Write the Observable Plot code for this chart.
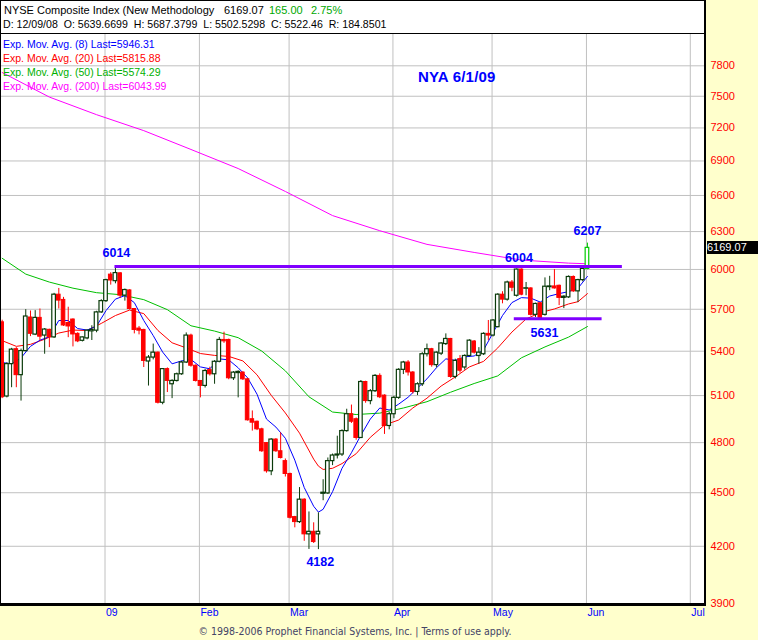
<!DOCTYPE html>
<html><head><meta charset="utf-8">
<script src="https://cdn.jsdelivr.net/npm/d3@7"></script>
<script src="https://cdn.jsdelivr.net/npm/@observablehq/plot@0.6"></script>
<style>
body{margin:0;background:#ffffcc;}
#wrap{position:relative;width:758px;height:640px;background:#ffffcc;overflow:hidden;font-family:"Liberation Sans",Arial,sans-serif;}
#panel{position:absolute;left:0;top:0;width:705px;height:603px;background:#fff;}
#chart{position:absolute;left:0;top:0;}
.b{position:absolute;background:#000;}
.t{position:absolute;white-space:pre;line-height:1;}
</style></head>
<body>
<div id="wrap">
  <div id="panel"></div>
  <div id="chart"></div>
  <div class="b" style="left:0;top:0;width:705px;height:1px"></div>
  <div class="b" style="left:0;top:33px;width:705px;height:1px"></div>
  <div class="b" style="left:0;top:0;width:1px;height:606px"></div>
  <div class="b" style="left:704px;top:0;width:2px;height:606px"></div>
  <div class="b" style="left:0;top:603px;width:706px;height:3px"></div>
  <div class="t" style="left:4px;top:5px;font-size:11px;color:#000">NYSE Composite Index (New Methodology</div>
  <div class="t" style="left:224px;top:5px;font-size:11px;color:#000">6169.07</div>
  <div class="t" style="left:269px;top:5px;font-size:11px;color:#00a800">165.00</div>
  <div class="t" style="left:311px;top:5px;font-size:11px;color:#00a800">2.75%</div>
  <div class="t" style="left:3px;top:19px;font-size:10.6px;color:#000">D: 12/09/08  O: 5639.6699  H: 5687.3799  L: 5502.5298  C: 5522.46  R: 184.8501</div>
  <div class="t" style="left:3px;top:39px;font-size:10.5px;color:#0000ff">Exp. Mov. Avg. (8) Last=5946.31</div>
  <div class="t" style="left:3px;top:53px;font-size:10.5px;color:#ff0000">Exp. Mov. Avg. (20) Last=5815.88</div>
  <div class="t" style="left:3px;top:67px;font-size:10.5px;color:#00b000">Exp. Mov. Avg. (50) Last=5574.29</div>
  <div class="t" style="left:3px;top:81px;font-size:10.5px;color:#ff00ff">Exp. Mov. Avg. (200) Last=6043.99</div>
  <div class="t" style="left:418px;top:69px;font-size:15px;font-weight:bold;color:#0000ff;letter-spacing:0.2px">NYA 6/1/09</div>
  <div class="t" id="tag" style="left:707px;width:51px;height:13px;background:#000;color:#fff;font-size:11px;padding-top:1px;box-sizing:border-box">6169.07</div>
  <div class="t" style="left:0;width:710px;top:626px;text-align:center;font-size:10.5px;color:#444466;font-family:'Liberation Sans Narrow','DejaVu Sans Condensed',sans-serif">© 1998-2006 Prophet Financial Systems, Inc. | Terms of use apply.</div>
</div>
<script>
// Daily OHLC, trading-day index 0 = first visible bar (Dec 2008) ... 124 = Jun 1 2009
const openV = [5605,5094,5311,5414,5236,5401,5639.67,5517,5637,5510,5551,5497,5808,5769,5600,5625,5522,5473,5490,5540,
  5545,5677,5760,5960,5910,5970,5801,5840,5702,5560,5550,5329,5356,5390,5053,5277,5175,5197,5242,5322,
  5510,5300,5197,5164,5270,5242,5327,5479,5479,5215,5250,5253,5208,4947,4931,4883,4797,4626,4819,4747,
  4687,4610,4361,4333,4460,4265,4279,4265,4494,4496,4687,4721,4727,4872,4979,4947,4829,5190,5064,5129,
  5231,5100,4904,4979,5085,5272,5322,5254,5124,5175,5379,5414,5304,5383,5450,5486,5224,5345,5288,5367,
  5468,5367,5379,5522,5510,5570,5808,5771,5900,5800,5999,5853,5855,5659,5744,5659,5865,5870,5875,5784,
  5788,5942,5833,5918,6004.07];
const highV = [5620,5320,5420,5425,5415,5697,5687.38,5690,5702,5560,5555,5818,5855,5788,5715,5630,5530,5500,5550,5580,
  5685,5770,5925,5975,6014,5975,5850,5845,5705,5575,5555,5370,5450,5395,5280,5285,5205,5250,5330,5529,
  5520,5305,5200,5275,5290,5335,5497,5534,5485,5260,5265,5260,5215,5000,4935,4890,4800,4825,4825,4861,
  4700,4615,4365,4530,4465,4390,4329,4385,4576,4706,4730,4840,4880,5011,5038,4955,5200,5195,5140,5240,
  5245,5105,4990,5095,5280,5330,5335,5260,5185,5390,5450,5420,5395,5460,5522,5490,5345,5370,5375,5480,
  5475,5425,5530,5618,5625,5815,5830,5910,5915,6004,6004,5900,5860,5745,5750,5935,5947,5999,5880,5800,
  5950,5950,5925,6010,6207];
const lowV = [5080,5085,5152,5152,5064,5395,5502.53,5510,5473,5379,5425,5490,5702,5575,5495,5430,5460,5465,5480,5475,
  5530,5670,5750,5880,5890,5780,5760,5695,5522,5515,5288,5163,5340,5045,5040,5120,5080,5190,5235,5315,
  5290,5190,5085,5150,5230,5175,5320,5455,5205,5200,5085,5200,4935,4872,4875,4740,4615,4600,4740,4700,
  4592,4350,4301,4325,4227,4183,4215,4182,4454,4490,4660,4700,4715,4865,4920,4815,4825,5050,5040,5120,
  5080,4851,4880,4950,5075,5240,5230,5110,5100,5160,5360,5290,5285,5370,5440,5215,5210,5250,5270,5360,
  5380,5310,5370,5474,5500,5565,5740,5760,5830,5790,5800,5800,5650,5640,5632,5650,5838,5850,5727,5705,
  5780,5825,5749,5905,5998];
const closeV = [5089,5311,5411,5236,5401,5647,5522.46,5637,5502,5553,5497,5808,5764,5582,5575,5518,5469,5497,5545,5550,
  5677,5760,5918,5915,5972,5801,5843,5702,5550,5545,5333,5356,5390,5053,5277,5197,5197,5242,5322,5510,
  5300,5197,5164,5264,5242,5327,5479,5469,5215,5253,5258,5208,4940,4925,4883,4747,4626,4819,4747,4706,
  4610,4357,4333,4460,4265,4279,4223,4279,4500,4687,4721,4727,4872,4979,4931,4829,5190,5064,5129,5231,
  5089,4904,4979,5085,5272,5322,5254,5124,5175,5379,5414,5304,5390,5454,5486,5224,5333,5266,5367,5474,
  5390,5390,5522,5510,5618,5808,5771,5900,5860,5999,5808,5856,5659,5739,5637,5868,5870,5855,5784,5793,
  5942,5833,5918,6004.07,6169.07];

const ema8Idx = [0,2,4,6,8,10,12,14,16,18,20,22,24,26,28,30,32,34,36,38,40,42,44,46,48,50,52,54,56,58,60,62,64,66,67,68,70,72,74,76,78,80,82,84,86,88,90,92,94,96,98,100,102,104,106,108,110,112,114,116,118,120,122,124];
const ema8 = [5322,5313,5354,5434,5477,5502,5618,5618,5560,5549,5578,5690,5775,5801,5749,5618,5510,5394,5313,5333,5343,5292,5279,5347,5340,5286,5218,5109,4948,4897,4827,4693,4530,4422,4389,4405,4506,4644,4738,4846,4948,5019,5006,5044,5089,5150,5211,5286,5347,5337,5361,5367,5409,5530,5654,5749,5786,5782,5753,5798,5816,5831,5857,5946.31];
const ema20Idx = [0,3,6,9,12,15,18,21,24,27,30,33,36,39,42,45,48,51,54,57,60,63,66,67,68,70,72,75,78,81,84,87,90,93,96,99,102,105,108,111,114,117,120,122,124];
const ema20 = [5474,5434,5448,5484,5528,5549,5546,5597,5654,5694,5668,5546,5459,5423,5384,5371,5364,5333,5238,5102,4987,4859,4699,4657,4637,4644,4672,4732,4833,4910,4942,5019,5083,5163,5224,5292,5330,5423,5535,5629,5675,5702,5739,5756,5815.88];
const ema50Idx = [0,5,10,15,20,25,30,35,40,45,50,55,60,65,70,75,80,85,90,95,100,105,110,115,120,124];
const ema50 = [6087,5964,5903,5857,5823,5808,5771,5697,5580,5542,5495,5401,5265,5092,4993,4977,4986,5019,5060,5122,5180,5231,5354,5430,5499,5574.29];
const ema200Idx = [0,10,20,30,40,50,60,70,80,90,100,110,120,124];
const ema200 = [7733,7492,7324,7175,7003,6833,6634,6431,6307,6197,6133,6073,6049,6043.99];

// Axis ticks
const yTicks = [3900,4200,4500,4800,5100,5400,5700,6000,6300,6600,6900,7200,7500,7800];
const monthStarts = [22,42,61,83,104,124,146];
const monthLabels = ["09","Feb","Mar","Apr","May","Jun","Jul"];

// Drawn support / resistance levels
const levelValue = [6022,5631];
const levelFrom = [23.9,108.5];
const levelTo = [131.4,127.1];

// Annotations
const noteText = ["6014","6004","6207","5631","4182"];
const noteIdx = [24.2,109.5,124,114.9,67.4];
const noteValue = [6014,6004,6207,5631,4182];

const bars = closeV.map((c,i)=>({i, open:openV[i], high:highV[i], low:lowV[i], close:c}));
const last = bars.length-1;
const upBars = bars.filter(d=>d.close>=d.open && d.i!==last);
const downBars = bars.filter(d=>d.close<d.open);
const lastBar = [bars[last]];
const pts = (idx, vals)=>idx.map((x,k)=>({x, y:vals[k]}));
const levels = levelValue.map((v,k)=>({v, from:levelFrom[k], to:levelTo[k]}));
const notes = noteText.map((t,k)=>({t, x:noteIdx[k], y:noteValue[k]}));

const HW = 0.38;
const upCol = "#0a3a0a";
const ff = "Liberation Sans, Arial, sans-serif";
const noteMark = (k, dy) => Plot.text([notes[k]], {x:"x", y:"y", text:"t", dy, fill:"#0000ff", fontWeight:"bold", fontSize:12.5, fontFamily:ff});

const chart = Plot.plot({
  width: 758, height: 640,
  marginLeft: 0, marginRight: 53, marginTop: 34, marginBottom: 36.7,
  style: {background:"transparent", overflow:"visible"},
  x: {domain:[-0.352, 149.01], axis:null},
  y: {type:"log", domain:[3900, 8121], axis:null},
  marks: [
    Plot.ruleY(yTicks, {y:d=>d, stroke:"#c0c0c0", strokeWidth:1}),
    Plot.ruleX(monthStarts, {x:d=>d, dx:-1, stroke:"#c0c0c0", strokeWidth:1}),
    Plot.text(yTicks, {y:d=>d, text:d=>String(d), frameAnchor:"right", dx:5, textAnchor:"start", fill:"#ff0000", fontSize:11, fontFamily:ff}),
    Plot.text(monthStarts, {x:d=>d, frameAnchor:"bottom", dy:12, textAnchor:"start", text:(d,k)=>monthLabels[k], fill:"#0000ff", fontSize:10.5, fontFamily:ff}),
    Plot.line(pts(ema200Idx, ema200), {x:"x", y:"y", stroke:"#ff00ff", strokeWidth:1}),
    Plot.line(pts(ema50Idx, ema50), {x:"x", y:"y", stroke:"#00c000", strokeWidth:1}),
    Plot.line(pts(ema20Idx, ema20), {x:"x", y:"y", stroke:"#ff0000", strokeWidth:1}),
    Plot.line(pts(ema8Idx, ema8), {x:"x", y:"y", stroke:"#0000ff", strokeWidth:1}),
    Plot.ruleX(downBars, {x:"i", y1:"low", y2:"high", stroke:"#ff0000", strokeWidth:1}),
    Plot.ruleX(upBars, {x:"i", y1:"low", y2:"high", stroke:upCol, strokeWidth:1}),
    Plot.ruleX(lastBar, {x:"i", y1:"low", y2:"high", stroke:"#00cc00", strokeWidth:1}),
    Plot.rect(downBars, {x1:d=>d.i-HW, x2:d=>d.i+HW, y1:"open", y2:"close", fill:"#ff0000", stroke:"#ff0000", strokeWidth:1}),
    Plot.rect(upBars, {x1:d=>d.i-HW, x2:d=>d.i+HW, y1:"open", y2:"close", fill:"#ffffff", stroke:upCol, strokeWidth:1.2}),
    Plot.rect(lastBar, {x1:d=>d.i-HW, x2:d=>d.i+HW, y1:"open", y2:"close", fill:"#ffffff", stroke:"#00cc00", strokeWidth:1.2}),
    Plot.ruleY(levels, {y:"v", x1:"from", x2:"to", stroke:"#8000ff", strokeWidth:3}),
    noteMark(0, -15),
    noteMark(1, -11),
    noteMark(2, -12),
    noteMark(3, 14),
    noteMark(4, 12)
  ]
});
document.getElementById("chart").appendChild(chart);
const yPix = chart.scale("y").apply(closeV[last]);
const tag = document.getElementById("tag");
tag.style.top = (yPix - 6.5) + "px";
</script>
</body></html>
